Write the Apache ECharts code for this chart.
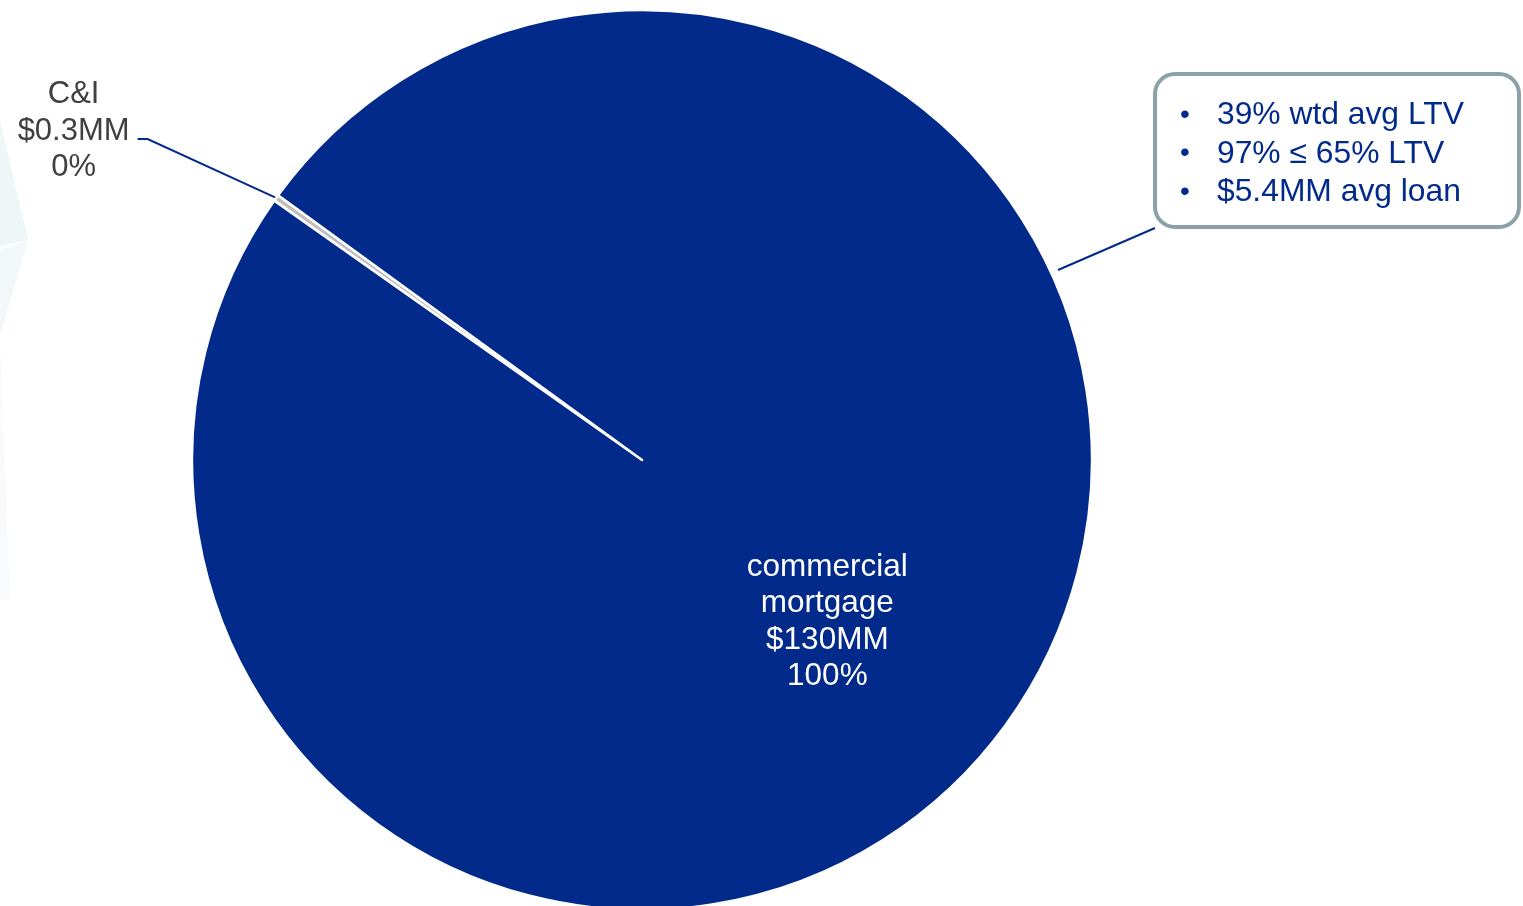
<!DOCTYPE html>
<html>
<head>
<meta charset="utf-8">
<script src="https://cdn.jsdelivr.net/npm/echarts@6/dist/echarts.min.js"></script>
<style>
html,body{margin:0;padding:0;background:#fff;}
#chart{width:1523px;height:906px;}
</style>
</head>
<body>
<div id="chart"></div>
<script>
// ---- data ----
const categories = ['C&I', 'commercial\nmortgage'];
const valuesMM = [0.3, 130];
const sliceColors = ['#BFBFBF', '#022A8A'];
const noteLines = ['39% wtd avg LTV', '97% \u2264 65% LTV', '$5.4MM avg loan'];

const FONT = '"Liberation Sans", Arial, sans-serif';
const chart = echarts.init(document.getElementById('chart'));

const data = categories.map((c, i) => {
  const item = { name: c, value: valuesMM[i], itemStyle: { color: sliceColors[i] } };
  if (i === 1) {
    item.label = {
      position: 'inside',
      color: '#ffffff',
      fontSize: 31.5,
      lineHeight: 36.5,
      formatter: p => p.name + '\n$' + p.value + 'MM\n' + Math.round(p.percent) + '%'
    };
  }
  return item;
});

const noteText = noteLines.map(t => '{b|\u2022}{t|' + t + '}').join('\n');

chart.setOption({
  animation: false,
  backgroundColor: '#ffffff',
  graphic: [
    { type: 'polygon', z: -10, shape: { points: [[0, 120], [28, 240], [0, 246]] }, style: { fill: '#eef6f8' } },
    { type: 'polygon', z: -10, shape: { points: [[0, 250], [28, 241], [0, 335]] }, style: { fill: '#f2f8f9' } },
    { type: 'polygon', z: -10, shape: { points: [[0, 340], [10, 600], [0, 600]] }, style: { fill: '#f8fafb' } },
    { type: 'line', z: 5, shape: { x1: 1058, y1: 270, x2: 1155, y2: 228 }, style: { stroke: '#022A8A', lineWidth: 2 } },
    { type: 'rect', z: 5, shape: { x: 1155, y: 74, width: 364, height: 153, r: 20 },
      style: { fill: '#ffffff', stroke: '#8AA2A7', lineWidth: 4 } },
    { type: 'text', z: 6, left: 1180, top: 96,
      style: {
        text: noteText,
        fontFamily: FONT,
        fontSize: 31.5,
        lineHeight: 38.5,
        fill: '#022A8A',
        rich: {
          b: { fontSize: 28, width: 37, fill: '#022A8A', fontFamily: FONT, lineHeight: 38.5 },
          t: { fontSize: 31.8, fill: '#022A8A', fontFamily: FONT, lineHeight: 38.5 }
        }
      }
    }
  ],
  series: [{
    type: 'pie',
    center: [642, 460],
    radius: 450,
    startAngle: 144.8,
    clockwise: true,
    avoidLabelOverlap: false,
    data: data,
    itemStyle: { borderColor: '#ffffff', borderWidth: 2.5 },
    label: {
      position: 'outside',
      fontFamily: FONT,
      fontSize: 31,
      lineHeight: 36.5,
      color: '#404040',
      formatter: p => {
        const lines = [p.name, '$' + p.value + 'MM', Math.round(p.percent) + '%'];
        return lines.map(l => '{c|' + l + '}').join('\n');
      },
      rich: {
        c: { width: 118, align: 'center', fontFamily: FONT, fontSize: 31, lineHeight: 36.5 }
      }
    },
    labelLine: {
      show: true,
      length: 120,
      length2: 41,
      lineStyle: { color: '#022A8A', width: 2 }
    },
    labelLayout: function (params) {
      if (params.dataIndex === 1) {
        return { dy: 29, dx: 0 };
      }
      const r = params.labelRect;
      const pts = params.labelLinePoints;
      if (!pts) return { dy: 3 };
      const y = r.y + r.height / 2 + 11;
      const right = r.x + r.width;
      return { dy: 3, labelLinePoints: [pts[0], [right + 15, y], [right + 5, y]] };
    }
  }]
});
</script>
</body>
</html>
